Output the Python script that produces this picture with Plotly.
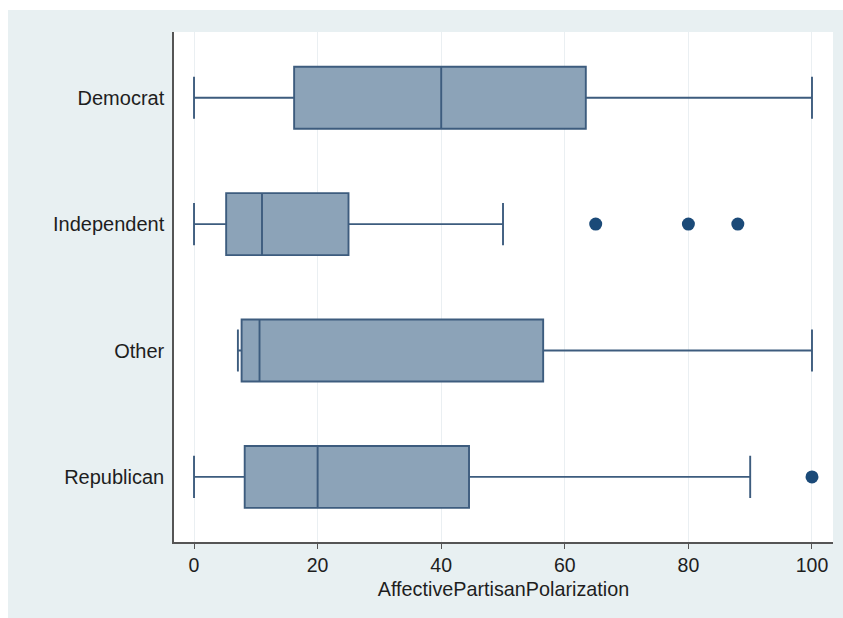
import plotly.graph_objects as go

# Summary statistics of affective partisan polarization by party identification
categories = ["Democrat", "Independent", "Other", "Republican"]
lower_adj = [0, 0, 7.1, 0]
q1 = [16.2, 5.2, 7.7, 8.2]
median = [40, 11, 10.6, 20]
q3 = [63.4, 25, 56.5, 44.5]
upper_adj = [100, 50, 100, 90]

# Values outside the adjacent values
outlier_party = ["Independent", "Independent", "Independent", "Republican"]
outlier_value = [65, 80, 88, 100]

x_ticks = [0, 20, 40, 60, 80, 100]

BOX_FILL = "#8CA3B8"
BOX_LINE = "#3D5C7E"
DOT = "#1B4A78"
PANEL = "#E8F0F2"
FONT = "Liberation Sans, Arial, Helvetica, sans-serif"

fig = go.Figure()

fig.add_trace(go.Box(
    y=categories,
    q1=q1,
    median=median,
    q3=q3,
    lowerfence=lower_adj,
    upperfence=upper_adj,
    orientation="h",
    boxpoints=False,
    fillcolor=BOX_FILL,
    line=dict(color=BOX_LINE, width=1.9),
    width=0.49,
    whiskerwidth=0.68,
    showlegend=False,
    hoverinfo="skip",
))

fig.add_trace(go.Scatter(
    x=outlier_value,
    y=outlier_party,
    mode="markers",
    marker=dict(color=DOT, size=13, line=dict(width=0)),
    showlegend=False,
    hoverinfo="skip",
))

W, H = 843, 618
L, R, T, B = 174, 10, 32, 76
pw, ph = W - L - R, H - T - B

def px_x(p):
    return (p - L) / pw

def px_y(p):
    return (H - B - p) / ph

fig.update_layout(
    width=W,
    height=H,
    margin=dict(l=L, r=R, t=T, b=B, pad=0),
    paper_bgcolor="white",
    plot_bgcolor="white",
    font=dict(family=FONT, size=20, color="#1E1E1E"),
    shapes=[
        # light outer panel
        dict(type="rect", xref="paper", yref="paper", layer="below",
             x0=px_x(8), x1=px_x(W + 2), y0=px_y(H + 2), y1=px_y(10),
             fillcolor=PANEL, line=dict(width=0)),
        # white plotting region
        dict(type="rect", xref="paper", yref="paper", layer="below",
             x0=0, x1=1, y0=0, y1=1,
             fillcolor="white", line=dict(width=0)),
    ],
    xaxis=dict(
        range=[-3.24, 103.4],
        tickvals=x_ticks,
        ticktext=[str(v) for v in x_ticks],
        ticks="outside",
        ticklen=5,
        tickwidth=1.3,
        tickcolor="#555555",
        showline=True,
        linecolor="#555555",
        linewidth=1.5,
        showgrid=True,
        gridcolor="#EAEFF2",
        gridwidth=1,
        zeroline=False,
        tickfont=dict(size=19.5),
        title=dict(text="AffectivePartisanPolarization", font=dict(size=19.8), standoff=7),
    ),
    yaxis=dict(
        type="category",
        categoryorder="array",
        categoryarray=list(reversed(categories)),
        range=[-0.515, 3.52],
        ticks="",
        showline=True,
        linecolor="#555555",
        linewidth=1.5,
        showgrid=False,
        zeroline=False,
        tickfont=dict(size=20),
        ticklabelstandoff=4,
    ),
)

fig.write_html("out.html")
